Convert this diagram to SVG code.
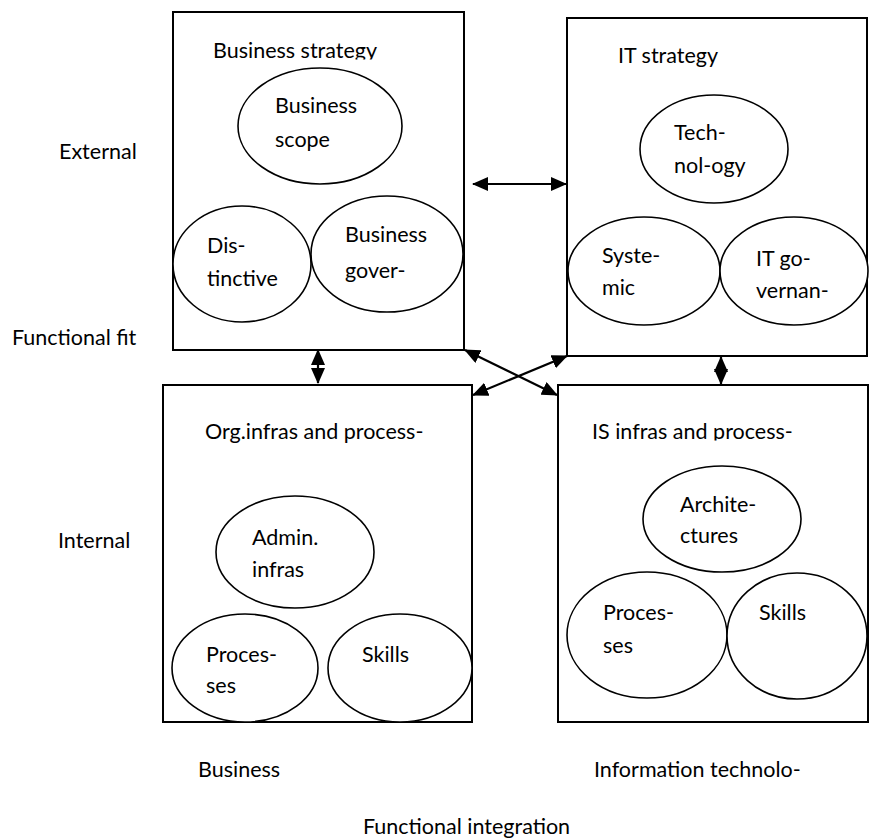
<svg xmlns="http://www.w3.org/2000/svg" width="872" height="839" viewBox="0 0 872 839">
  <style>
    .box { fill: #fff; stroke: #000; stroke-width: 2; }
    .ell { fill: #fff; stroke: #000; stroke-width: 1.6; }
    text { font-family: Lato, "Open Sans", "Liberation Sans", sans-serif; font-size: 21.5px; fill: #000; }
    .link { stroke: #000; stroke-width: 2.2; fill: none; marker-start: url(#head); marker-end: url(#head); }
  </style>
  <defs>
    <marker id="head" viewBox="0 0 16 14" refX="15" refY="7" markerWidth="16" markerHeight="14" markerUnits="userSpaceOnUse" orient="auto-start-reverse">
      <path d="M0,0 L16,7 L0,14 Z" fill="#000"/>
    </marker>
    <clipPath id="clip-bs"><rect x="200" y="30" width="200" height="29.5"/></clipPath>
    <clipPath id="clip-is"><rect x="580" y="410" width="260" height="30.5"/></clipPath>
  </defs>

  <!-- axis labels -->
  <g id="labels">
    <text x="59" y="159">External</text>
    <text x="12" y="345">Functional fit</text>
    <text x="58" y="548">Internal</text>
    <text x="198" y="777">Business</text>
    <text x="594" y="777">Information technolo-</text>
    <text x="363" y="834">Functional integration</text>
  </g>

  <!-- business strategy -->
  <g id="business-strategy">
    <rect class="box" x="173" y="12" width="291" height="338"/>
    <text x="213" y="57.5" clip-path="url(#clip-bs)">Business strategy</text>
    <ellipse class="ell" cx="320" cy="126" rx="82" ry="58"/>
    <text x="275" y="113">Business</text>
    <text x="275" y="147">scope</text>
    <ellipse class="ell" cx="242" cy="264" rx="69" ry="58"/>
    <text x="207" y="253">Dis-</text>
    <text x="207" y="286">tinctive</text>
    <ellipse class="ell" cx="387" cy="254" rx="76" ry="58"/>
    <text x="345" y="242">Business</text>
    <text x="345" y="278">gover-</text>
  </g>

  <!-- IT strategy -->
  <g id="it-strategy">
    <rect class="box" x="567" y="18" width="300" height="338"/>
    <text x="618" y="63">IT strategy</text>
    <ellipse class="ell" cx="714" cy="149" rx="74" ry="54"/>
    <text x="674" y="140">Tech-</text>
    <text x="674" y="173">nol-ogy</text>
    <ellipse class="ell" cx="644" cy="271" rx="76" ry="54"/>
    <text x="602" y="263">Syste-</text>
    <text x="602" y="295">mic</text>
    <ellipse class="ell" cx="794" cy="271" rx="74" ry="54"/>
    <text x="756" y="266">IT go-</text>
    <text x="756" y="298">vernan-</text>
  </g>

  <!-- organisational infrastructure and processes -->
  <g id="org-infra">
    <rect class="box" x="163" y="385" width="309" height="337"/>
    <text x="205" y="439">Org.infras and process-</text>
    <ellipse class="ell" cx="295" cy="552" rx="79" ry="56"/>
    <text x="252" y="545">Admin.</text>
    <text x="252" y="577">infras</text>
    <ellipse class="ell" cx="245" cy="668" rx="73" ry="54"/>
    <text x="206" y="662">Proces-</text>
    <text x="206" y="693">ses</text>
    <ellipse class="ell" cx="400" cy="668" rx="72" ry="54"/>
    <text x="362" y="662">Skills</text>
  </g>

  <!-- IS infrastructure and processes -->
  <g id="is-infra">
    <rect class="box" x="558" y="385" width="310" height="337"/>
    <text x="592" y="439" clip-path="url(#clip-is)">IS infras and process-</text>
    <ellipse class="ell" cx="722" cy="519" rx="79" ry="53"/>
    <text x="680" y="512">Archite-</text>
    <text x="680" y="543">ctures</text>
    <ellipse class="ell" cx="647" cy="635" rx="80" ry="63"/>
    <text x="603" y="620">Proces-</text>
    <text x="603" y="653">ses</text>
    <ellipse class="ell" cx="797" cy="636" rx="70" ry="63"/>
    <text x="759" y="620">Skills</text>
  </g>

  <!-- alignment connectors -->
  <g id="connectors">
    <line class="link" x1="473" y1="184" x2="566" y2="184"/>
    <line class="link" x1="318" y1="350" x2="318" y2="383"/>
    <line class="link" x1="721" y1="357" x2="721" y2="384"/>
    <line class="link" x1="465" y1="350" x2="557" y2="395"/>
    <line class="link" x1="567" y1="356" x2="473" y2="395"/>
  </g>
</svg>
